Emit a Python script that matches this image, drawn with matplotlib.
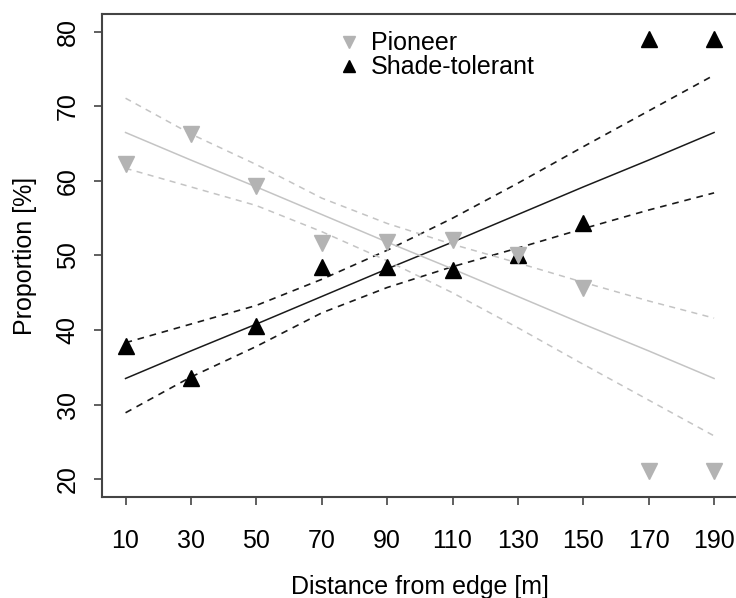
import matplotlib
matplotlib.use("Agg")
import matplotlib.pyplot as plt

plt.rcParams['font.family'] = ['Liberation Sans', 'DejaVu Sans']

# distances from forest edge [m]
distance = [10, 30, 50, 70, 90, 110, 130, 150, 170, 190]

# observed proportions [%]
pioneer = [62.3, 66.3, 59.3, 51.7, 51.8, 52.1, 50.1, 45.6, 21.1, 21.1]
shade = [37.8, 33.6, 40.6, 48.5, 48.5, 48.1, 50.0, 54.4, 79.0, 79.0]

# fitted lines and confidence bands
pioneer_fit = [66.5, 62.8, 59.2, 55.5, 51.8, 48.2, 44.5, 40.8, 37.2, 33.5]
pioneer_upper = [71.1, 66.3, 62.2, 57.7, 54.3, 51.5, 49.0, 46.4, 43.9, 41.6]
pioneer_lower = [61.7, 59.2, 56.7, 53.2, 49.3, 45.0, 40.3, 35.4, 30.6, 25.8]

shade_fit = [33.5, 37.2, 40.8, 44.5, 48.2, 51.8, 55.5, 59.2, 62.8, 66.5]
shade_upper = [38.3, 40.8, 43.3, 46.8, 50.7, 55.0, 59.7, 64.6, 69.4, 74.2]
shade_lower = [28.9, 33.7, 37.8, 42.3, 45.7, 48.5, 51.0, 53.6, 56.1, 58.4]

x_ticks = [10, 30, 50, 70, 90, 110, 130, 150, 170, 190]
y_ticks = [20, 30, 40, 50, 60, 70, 80]

light = "#c4c4c4"
dark = "#1a1a1a"
dash = (0, (4, 3.5))

fig = plt.figure(figsize=(7.36, 5.98), dpi=100)
ax = fig.add_axes([0.1386, 0.1689, 0.8636, 0.8077])

# shade-tolerant fit and band
ax.plot(distance, shade_fit, color=dark, lw=1.1)
ax.plot(distance, shade_upper, color=dark, lw=1.2, linestyle=dash)
ax.plot(distance, shade_lower, color=dark, lw=1.2, linestyle=dash)

# pioneer fit and band
ax.plot(distance, pioneer_fit, color=light, lw=1.1)
ax.plot(distance, pioneer_upper, color=light, lw=1.1, linestyle=dash)
ax.plot(distance, pioneer_lower, color=light, lw=1.1, linestyle=dash)

ax.plot(distance, shade, linestyle="none", marker="^", ms=11, color="black",
        label="Shade-tolerant", zorder=5)
ax.plot(distance, pioneer, linestyle="none", marker="v", ms=11, color="#b3b3b3",
        label="Pioneer", zorder=6)

ax.set_xlim(2.8, 197.2)
ax.set_ylim(17.6, 82.4)
ax.set_xticks(x_ticks)
ax.set_yticks(y_ticks)
ax.tick_params(axis="both", direction="out", length=6, width=1.2, color="#444444",
               labelsize=18)
ax.tick_params(axis="x", pad=17)
ax.tick_params(axis="y", pad=10)
for lab in ax.get_yticklabels():
    lab.set_rotation(90)
    lab.set_va("center")

for s in ["left", "bottom", "top"]:
    ax.spines[s].set_color("#444444")
    ax.spines[s].set_linewidth(1.5)
ax.spines["right"].set_visible(False)

ax.set_xlabel("Distance from edge [m]", fontsize=18, labelpad=16)
ax.set_ylabel("Proportion [%]", fontsize=18, labelpad=13.5)

handles, labels = ax.get_legend_handles_labels()
ax.legend(handles[::-1], labels[::-1], loc="upper left", bbox_to_anchor=(0.345, 1.0),
          frameon=False, fontsize=18, handlelength=0.8, handletextpad=0.5,
          labelspacing=0.0, borderpad=0.2, markerscale=0.75)

fig.savefig("out.png", dpi=100)
